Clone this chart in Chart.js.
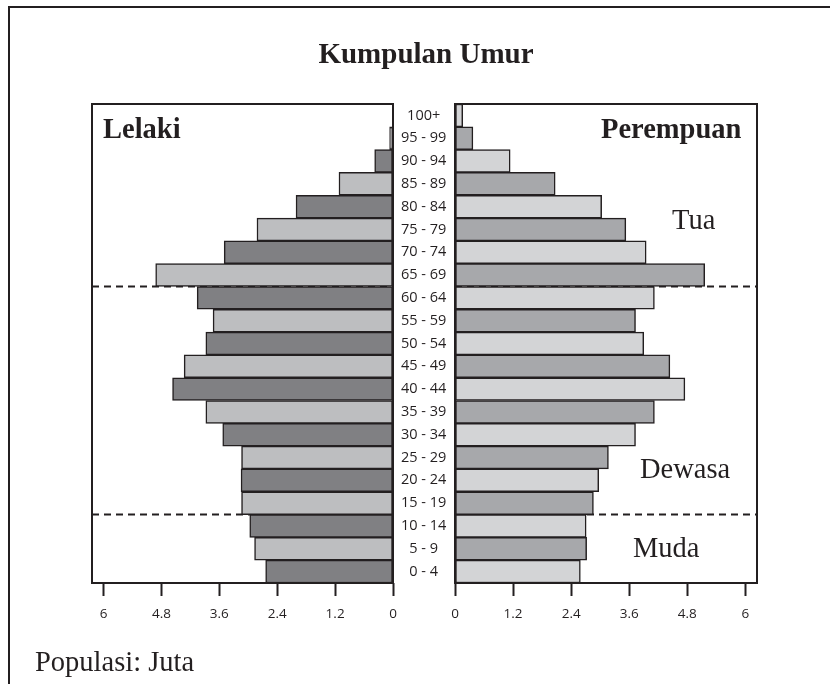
<!DOCTYPE html>
<html>
<head>
<meta charset="utf-8">
<script src="https://cdn.jsdelivr.net/npm/chart.js@4.4.1/dist/chart.umd.min.js"></script>
<style>
    body { margin: 0; background: #fff; }
    #wrap { position: relative; width: 830px; height: 684px; overflow: hidden; background: #fff; }
    #frame { position: absolute; left: 8px; top: 6px; right: -10px; bottom: -10px; border-top: 2px solid #231f20; border-left: 2px solid #231f20; }
    canvas { position: absolute; top: 0; }
    .txt { position: absolute; font-family: "Liberation Serif", "Times New Roman", serif; font-size: 28.5px; line-height: 1; color: #231f20; white-space: nowrap; }
    .b { font-weight: bold; }
</style>
</head>
<body>
<div id="wrap">
    <div id="frame"></div>
    <canvas id="maleChart" width="455" height="684" style="left:0"></canvas>
    <canvas id="femaleChart" width="390" height="684" style="left:440px"></canvas>
    <div class="txt b" style="left:226px;width:400px;text-align:center;top:39px;font-size:29px">Kumpulan Umur</div>
    <div class="txt b" style="left:103px;top:115px">Lelaki</div>
    <div class="txt b" style="left:601px;top:115px">Perempuan</div>
    <div class="txt" style="left:672px;top:206px">Tua</div>
    <div class="txt" style="left:640px;top:455px">Dewasa</div>
    <div class="txt" style="left:633px;top:534px">Muda</div>
    <div class="txt" style="left:35px;top:648px">Populasi: Juta</div>
</div>
<script>
// age groups, youngest first (drawn bottom to top)
const ageLabels = ["0 - 4", "5 - 9", "10 - 14", "15 - 19", "20 - 24", "25 - 29", "30 - 34",
    "35 - 39", "40 - 44", "45 - 49", "50 - 54", "55 - 59", "60 - 64", "65 - 69",
    "70 - 74", "75 - 79", "80 - 84", "85 - 89", "90 - 94", "95 - 99", "100+"];

// population, millions
const maleValues = [2.64, 2.87, 2.97, 3.14, 3.15, 3.14, 3.53, 3.88, 4.57, 4.33, 3.88,
    3.73, 4.06, 4.92, 3.50, 2.82, 2.01, 1.12, 0.38, 0.07, 0];
const femaleValues = [2.59, 2.72, 2.71, 2.86, 2.97, 3.17, 3.73, 4.12, 4.75, 4.44, 3.90,
    3.73, 4.12, 5.16, 3.95, 3.53, 3.03, 2.07, 1.14, 0.37, 0.16];

const xTicks = [0, 1.2, 2.4, 3.6, 4.8, 6];
const xMax = 6.24;

// dashed separators sit between these pairs of age groups (Muda/Dewasa, Dewasa/Tua)
const groupBreaks = [["10 - 14", "15 - 19"], ["60 - 64", "65 - 69"]];

const INK = "#231f20";
const tickFont = { family: "'Open Sans', 'Noto Sans', sans-serif", size: 13.5 };

const boxAndDashes = {
    id: "boxAndDashes",
    beforeDatasetsDraw(chart) {
        const { ctx, chartArea: a, scales: { y } } = chart;
        ctx.save();
        ctx.strokeStyle = INK;
        ctx.lineWidth = 2;
        ctx.setLineDash([7, 5]);
        groupBreaks.forEach(([lo, hi]) => {
            const py = (y.getPixelForValue(ageLabels.indexOf(lo)) + y.getPixelForValue(ageLabels.indexOf(hi))) / 2;
            ctx.beginPath();
            ctx.moveTo(a.left, py);
            ctx.lineTo(a.right, py);
            ctx.stroke();
        });
        ctx.restore();
    },
    afterDatasetsDraw(chart) {
        const { ctx, chartArea: a } = chart;
        ctx.save();
        ctx.strokeStyle = INK;
        ctx.lineWidth = 2;
        ctx.strokeRect(a.left, a.top, a.right - a.left, a.bottom - a.top);
        ctx.restore();
    }
};

function makeConfig(values, colA, colB, reverse, showLabels, padding) {
    return {
        type: "bar",
        data: {
            labels: ageLabels,
            datasets: [{
                data: values,
                backgroundColor: values.map((_, i) => i % 2 === 0 ? colA : colB),
                borderColor: INK,
                borderWidth: 1.5,
                borderSkipped: false,
                categoryPercentage: 1,
                barPercentage: 1
            }]
        },
        options: {
            indexAxis: "y",
            responsive: false,
            animation: false,
            layout: { padding },
            plugins: { legend: { display: false }, tooltip: { enabled: false } },
            scales: {
                x: {
                    min: 0,
                    max: xMax,
                    reverse,
                    afterBuildTicks: s => { s.ticks = xTicks.map(v => ({ value: v })); },
                    afterFit: s => { s.height = 60; },
                    grid: { drawOnChartArea: false, tickLength: 13, tickColor: INK, tickWidth: 2 },
                    border: { display: false },
                    ticks: { font: tickFont, color: INK, padding: 10, maxRotation: 0, callback: v => String(v) }
                },
                y: {
                    reverse: true,
                    display: showLabels,
                    position: "right",
                    afterFit: s => { s.width = showLabels ? 62 : 0; },
                    grid: { display: false, drawTicks: false },
                    border: { display: false },
                    ticks: { font: { ...tickFont, size: 14.5 }, color: INK, crossAlign: "center", padding: 8, autoSkip: false }
                }
            }
        },
        plugins: [boxAndDashes]
    };
}

new Chart(document.getElementById("maleChart").getContext("2d"),
    makeConfig(maleValues, "#808083", "#bdbec0", true, true, { left: 92, top: 104, bottom: 41, right: 0 }));
new Chart(document.getElementById("femaleChart").getContext("2d"),
    makeConfig(femaleValues, "#d3d4d6", "#a7a8ab", false, false, { left: 15, top: 104, bottom: 41, right: 73 }));
</script>
</body>
</html>
